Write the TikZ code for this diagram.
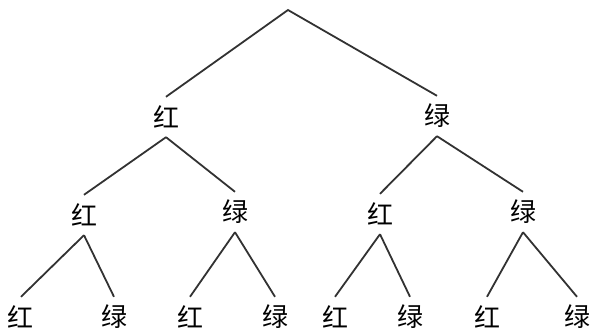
\documentclass[tikz,border=0pt]{standalone}
\usepackage{fontspec}
\newfontfamily\cjk{Noto Sans CJK SC}
\definecolor{TreeGray}{RGB}{50,50,50}

\begin{document}
\begin{tikzpicture}[x=1pt,y=-1pt,
    ball/.style={font=\cjk\fontsize{26}{26}\selectfont,inner sep=0pt,minimum height=40pt},
    branch/.style={TreeGray,line width=1.8pt}]
  \useasboundingbox (0,0) rectangle (590,335);
  \coordinate (o) at (288,10);
  % first draw
  \node[ball] (r) at (166,117) {红};
  \node[ball] (g) at (437,116) {绿};
  % second draw
  \node[ball] (rr) at (84,215) {红};
  \node[ball] (rg) at (235,212) {绿};
  \node[ball] (gr) at (380,214) {红};
  \node[ball] (gg) at (523,212) {绿};
  % third draw
  \node[ball] (rrr) at (21,317) {红};
  \node[ball] (rrg) at (114,317) {绿};
  \node[ball] (rgr) at (190,317) {红};
  \node[ball] (rgg) at (275,317) {绿};
  \node[ball] (grr) at (335,317) {红};
  \node[ball] (grg) at (410,317) {绿};
  \node[ball] (ggr) at (487,317) {红};
  \node[ball] (ggg) at (577,317) {绿};
  \draw[branch] (r.north) -- (o) -- (g.north);
  \foreach \p/\c in {r/rr,r/rg,g/gr,g/gg,rr/rrr,rr/rrg,rg/rgr,rg/rgg,gr/grr,gr/grg,gg/ggr,gg/ggg}
    \draw[branch] (\p.south) -- (\c.north);
\end{tikzpicture}
\end{document}
